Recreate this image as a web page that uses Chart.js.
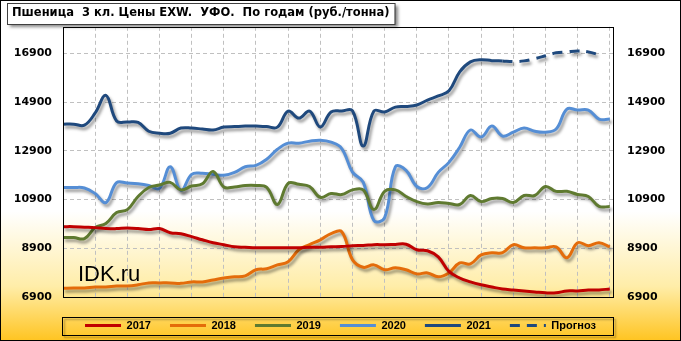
<!DOCTYPE html>
<html><head><meta charset="utf-8">
<script src="https://cdn.jsdelivr.net/npm/chart.js@4"></script>
<style>html,body{margin:0;padding:0;background:#fff}#wrap{width:681px;height:341px;position:relative}</style>
</head><body><div id="wrap"><canvas id="c" width="681" height="341"></canvas></div>
<script>
const titleText = 'Пшеница  3 кл. Цены EXW.  УФО.  По годам (руб./тонна)';
const watermarkText = 'IDK.ru';
const weeks = [1,2,3,4,5,6,7,8,9,10,11,12,13,14,15,16,17,18,19,20,21,22,23,24,25,26,27,28,29,30,31,32,33,34,35,36,37,38,39,40,41,42,43,44,45,46,47,48,49,50,51,52];
const xTicks = [1,4,7,10,13,16,19,22,25,28,31,34,37,40,43,46,49,52];
const yTicks = [6900,8900,10900,12900,14900,16900];
const seriesNames = ['2017','2018','2019','2020','2021','Прогноз'];

const y2017 = [9790,9790,9770,9750,9710,9710,9730,9710,9670,9710,9540,9500,9380,9250,9130,9050,8960,8940,8920,8920,8920,8920,8920,8940,8940,8960,8970,9010,9020,9050,9050,9060,9070,8840,8800,8550,7950,7680,7520,7400,7310,7230,7190,7150,7110,7070,7070,7150,7150,7190,7190,7230];
const y2018 = [7260,7270,7270,7310,7310,7350,7350,7400,7480,7480,7480,7460,7520,7520,7600,7680,7730,7770,8020,8060,8220,8350,8840,9050,9250,9500,9580,8430,8120,8220,8020,8100,8020,7850,7890,7730,7890,8300,8260,8630,8720,8720,9050,8920,8920,8920,8960,8510,9130,9010,9130,8960];
const y2019 = [9340,9340,9300,9750,9920,10370,10490,11030,11400,11500,11610,11300,11460,11550,12060,11420,11420,11480,11480,11400,10700,11570,11530,11440,10990,11150,11110,11300,11300,10490,11240,11300,11030,10820,10720,10780,10740,10700,11070,10820,10950,10950,10780,11070,11070,11440,11240,11240,11110,11030,10620,10620];
const y2020 = [11400,11400,11380,11150,10780,11600,11580,11550,11480,11360,12250,11280,11940,11980,11940,11900,12020,12250,12310,12560,12970,13220,13220,13300,13340,13260,13000,12030,11620,10040,10160,12250,12100,11440,11400,12020,12430,13050,13760,13470,13920,13510,13670,13840,13710,13670,13800,14620,14580,14580,14210,14210];
const y2021 = [14000,14000,13960,14460,15180,14130,14090,14070,13710,13630,13630,13840,13840,13800,13760,13880,13900,13920,13920,13900,13880,14540,14250,14540,13880,14500,14540,14550,13100,14540,14500,14700,14730,14790,14990,15160,15370,16150,16560,16650,16610,16600,null,null,null,null,null,null,null,null,null,null];
const yForecast = [null,null,null,null,null,null,null,null,null,null,null,null,null,null,null,null,null,null,null,null,null,null,null,null,null,null,null,null,null,null,null,null,null,null,null,null,null,null,null,null,null,16600,16570,16600,16690,16810,16930,16970,17010,16970,16850,null];

const colors = ['#C00000','#E46C0A','#5F7A30','#558ED5','#1F497D','#1F497D'];
const seriesData = [y2017,y2018,y2019,y2020,y2021,yForecast];
const titleFont = {family: '"DejaVu Sans"', size: 11.5, weight: 'bold'};

const decor = {
  id: 'decor',
  beforeDraw(chart) {
    const {ctx, width, height} = chart;
    ctx.save();
    const g = ctx.createLinearGradient(0, 0, 0, height);
    g.addColorStop(0, '#ffffff');
    g.addColorStop(0.62, '#ffffff');
    g.addColorStop(0.84, '#FFEDA8');
    g.addColorStop(1, '#FFC420');
    ctx.fillStyle = g;
    ctx.fillRect(0, 0, width, height);
    // title box
    const tb = chart.titleBlock;
    ctx.font = 'bold 11.5px "DejaVu Sans"';
    const tw = ctx.measureText(titleText).width;
    const bx = tb.left - 5, by = 3, bw = tw + 10, bh = 21;
    ctx.shadowColor = 'rgba(0,0,0,0.45)';
    ctx.shadowOffsetX = 3; ctx.shadowOffsetY = 3; ctx.shadowBlur = 3;
    ctx.fillStyle = '#fff';
    ctx.fillRect(bx, by, bw, bh);
    ctx.shadowColor = 'transparent';
    ctx.strokeStyle = '#404040'; ctx.lineWidth = 1;
    ctx.strokeRect(bx + 0.5, by + 0.5, bw, bh);
    // legend box
    const lg = chart.legend;
    if (lg && lg.legendHitBoxes && lg.legendHitBoxes.length) {
      const hb = lg.legendHitBoxes;
      const ca = chart.chartArea;
      const top = hb[0].top - 3;
      const h = hb[0].height + 7;
      ctx.shadowColor = 'rgba(0,0,0,0.35)';
      ctx.shadowOffsetX = 2; ctx.shadowOffsetY = 2; ctx.shadowBlur = 2;
      ctx.strokeStyle = '#000';
      ctx.strokeRect(Math.round(ca.left) - 0.5, Math.round(top) + 0.5, Math.round(ca.right - ca.left) + 1, Math.round(h));
    }
    ctx.restore();
  },
  beforeDatasetsDraw(chart) {
    const {ctx} = chart;
    ctx.save();
    ctx.font = '22px "Liberation Sans"';
    ctx.fillStyle = '#000';
    ctx.textBaseline = 'alphabetic';
    ctx.fillText(watermarkText, chart.chartArea.left + 15, chart.chartArea.bottom - 16);
    ctx.restore();
  },
  beforeDatasetDraw(chart) {
    const ctx = chart.ctx;
    ctx.save();
    ctx.shadowColor = 'rgba(0,0,0,0.4)';
    ctx.shadowBlur = 3;
    ctx.shadowOffsetX = 2;
    ctx.shadowOffsetY = 3;
  },
  afterDatasetDraw(chart) {
    chart.ctx.restore();
  },
  afterDatasetsDraw(chart) {
    const {ctx, chartArea: ca, width, height} = chart;
    ctx.save();
    ctx.strokeStyle = '#000';
    ctx.lineWidth = 1;
    ctx.strokeRect(Math.round(ca.left) + 0.5, Math.round(ca.top) + 0.5, Math.round(ca.right - ca.left), Math.round(ca.bottom - ca.top));
    ctx.strokeRect(0.5, 0.5, width - 1, height - 1);
    ctx.restore();
  }
};

const tickFont = {family: '"DejaVu Sans"', size: 11, weight: 'bold'};
const gridOpts = {color: '#C0C0C0', lineWidth: 1, drawTicks: false};

new Chart(document.getElementById('c'), {
  type: 'line',
  data: {
    labels: weeks,
    datasets: seriesNames.map((name, i) => ({
      label: name,
      data: seriesData[i],
      borderColor: colors[i],
      backgroundColor: colors[i],
      borderWidth: 3,
      borderDash: i === 5 ? [10, 7] : [],
      pointRadius: 0,
      pointStyle: 'line',
      tension: 0.4,
      fill: false,
      spanGaps: false
    }))
  },
  options: {
    responsive: false,
    animation: false,
    devicePixelRatio: 1,
    layout: {padding: {left: 12, right: 12, top: 0, bottom: 0}},
    scales: {
      x: {
        type: 'linear', min: 1, max: 52.3,
        afterBuildTicks: a => { a.ticks = xTicks.map(v => ({value: v})); },
        afterFit: a => { a.height = 4; },
        grid: gridOpts,
        border: {display: false, dash: [4, 3]},
        ticks: {font: tickFont, color: '#000', padding: 7, maxRotation: 0, autoSkip: false, callback: v => String(v)}
      },
      y: {
        type: 'linear', position: 'left', min: 6900, max: 18000,
        afterBuildTicks: a => { a.ticks = yTicks.map(v => ({value: v})); },
        afterFit: a => { a.width = 51; },
        grid: gridOpts,
        border: {display: false, dash: [4, 3]},
        ticks: {font: tickFont, color: '#000', padding: 11, callback: v => String(v)}
      },
      y2: {
        type: 'linear', position: 'right', min: 6900, max: 18000,
        afterBuildTicks: a => { a.ticks = yTicks.map(v => ({value: v})); },
        afterFit: a => { a.width = 56; },
        grid: {display: false, drawTicks: false},
        border: {display: false},
        ticks: {font: tickFont, color: '#000', padding: 14, callback: v => String(v)}
      }
    },
    plugins: {
      title: {
        display: true, text: titleText, align: 'start', color: '#000',
        font: titleFont,
        padding: {top: 6, bottom: 7}
      },
      legend: {
        position: 'bottom',
        labels: {
          usePointStyle: true, pointStyleWidth: 36, padding: 19, color: '#000',
          font: {family: '"Liberation Sans"', size: 11, weight: 'bold'},
          generateLabels: chart => {
            const items = Chart.defaults.plugins.legend.labels.generateLabels(chart);
            items.forEach(it => {
              const ds = chart.data.datasets[it.datasetIndex];
              it.lineDash = ds.borderDash || [];
              it.lineWidth = 3;
            });
            return items;
          }
        }
      },
      tooltip: {enabled: false}
    }
  },
  plugins: [decor]
});
</script>
</body></html>
